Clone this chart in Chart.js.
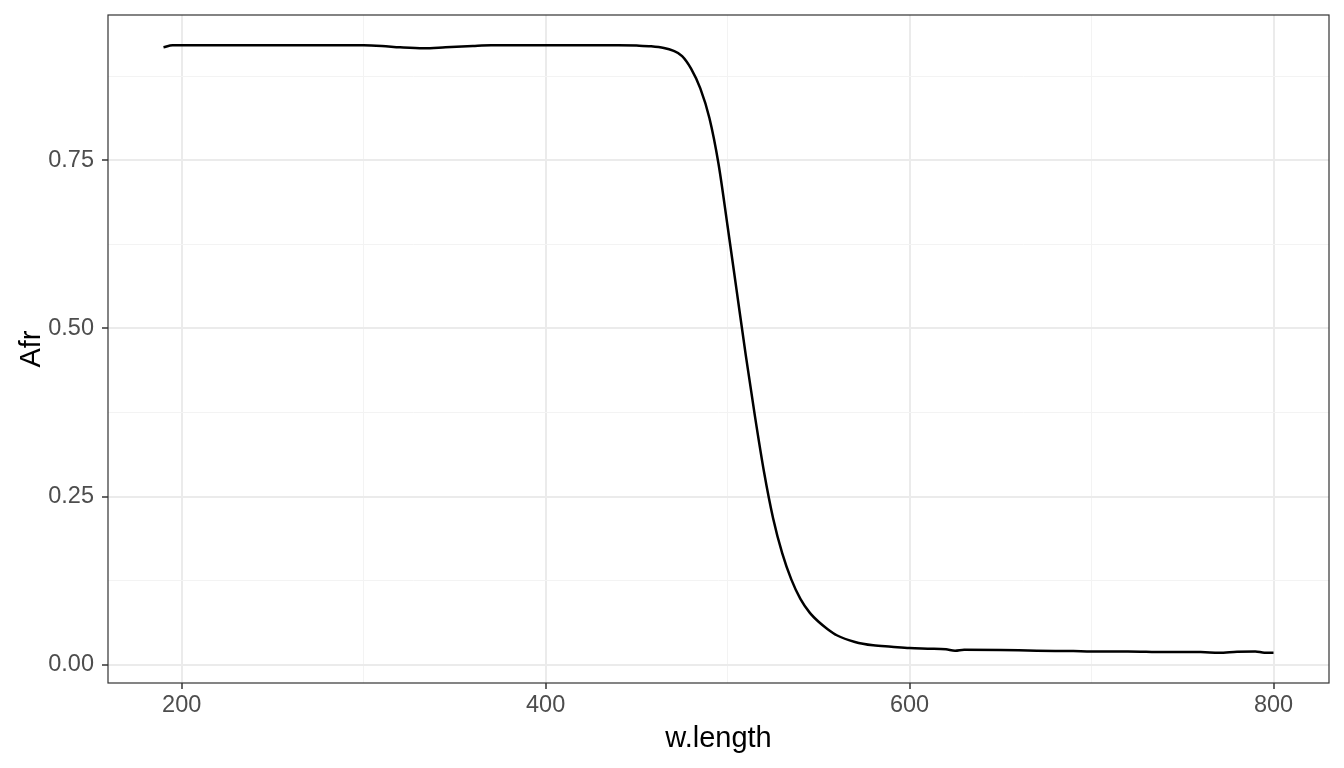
<!DOCTYPE html>
<html>
<head>
<meta charset="utf-8">
<script src="https://cdn.jsdelivr.net/npm/chart.js@4/dist/chart.umd.min.js"></script>
<style>
  body { margin: 0; background: #fff; }
  canvas { display: block; }
</style>
</head>
<body>
<canvas id="chart" width="1344" height="768"></canvas>
<script>
// spectrum
const wavelengths = [190, 195, 200, 220, 240, 260, 280, 300, 310, 320, 333, 345, 360, 370, 390, 410, 430, 440, 450, 458,
    465, 470, 475, 480, 485, 490, 495, 500, 505, 510, 515, 520, 525, 530, 535, 540, 545, 550, 555, 560,
    570, 580, 590, 600, 610, 620, 625, 630, 650, 670, 690, 700, 720, 740, 760, 770, 780, 790, 795, 800];
const afrValues = [0.918, 0.921, 0.921, 0.921, 0.921, 0.921, 0.921, 0.921, 0.920, 0.918, 0.9165, 0.918, 0.920, 0.921, 0.921, 0.921, 0.921, 0.921, 0.9205, 0.9195,
    0.917, 0.913, 0.905, 0.886, 0.857, 0.813, 0.745, 0.652, 0.556, 0.460, 0.370, 0.287, 0.218, 0.166, 0.127, 0.098, 0.078, 0.064, 0.053, 0.044,
    0.034, 0.029, 0.027, 0.025, 0.024, 0.023, 0.021, 0.0225, 0.022, 0.021, 0.0205, 0.020, 0.020, 0.019, 0.019, 0.018, 0.0195, 0.020, 0.018, 0.018];

const xMajorTicks = [200, 400, 600, 800];
const xMinorTicks = [300, 500, 700];
const yMajorTicks = [0, 0.25, 0.5, 0.75];
const yMinorTicks = [0.125, 0.375, 0.625, 0.875];
const yTickLabels = ['0.00', '0.25', '0.50', '0.75'];

const tickFont = { family: 'Liberation Sans, Arial, sans-serif', size: 23.5 };
const titleFont = { family: 'Liberation Sans, Arial, sans-serif', size: 29 };

function gridFor(majors) {
    return {
        color: ctx => majors.includes(ctx.tick.value) ? '#EBEBEB' : '#F3F3F3',
        lineWidth: ctx => majors.includes(ctx.tick.value) ? 2 : 1,
        tickColor: ctx => majors.includes(ctx.tick.value) ? '#333333' : 'rgba(0,0,0,0)',
        tickWidth: 1.5,
        tickLength: 6,
        drawTicks: true
    };
}

const panelBorder = {
    id: 'panelBorder',
    afterDraw(chart) {
        const a = chart.chartArea;
        const c = chart.ctx;
        c.save();
        c.strokeStyle = '#333333';
        c.lineWidth = 1.2;
        c.strokeRect(a.left, a.top, a.right - a.left, a.bottom - a.top);
        c.restore();
    }
};

new Chart(document.getElementById('chart').getContext('2d'), {
    type: 'line',
    data: {
        datasets: [{
            data: wavelengths.map((w, i) => ({ x: w, y: afrValues[i] })),
            borderColor: '#000000',
            borderWidth: 2.5,
            pointRadius: 0,
            cubicInterpolationMode: 'monotone',
            fill: false
        }]
    },
    options: {
        responsive: false,
        animation: false,
        devicePixelRatio: 1,
        layout: { padding: { top: 15, right: 15, left: 0, bottom: 0 } },
        plugins: { legend: { display: false }, tooltip: { enabled: false } },
        scales: {
            x: {
                type: 'linear',
                min: 159.5,
                max: 830.5,
                afterBuildTicks: s => { s.ticks = [...xMajorTicks, ...xMinorTicks].sort((a, b) => a - b).map(v => ({ value: v })); },
                afterFit: s => { s.height = 85; s.paddingLeft = 0; s.paddingRight = 0; },
                border: { display: false },
                grid: gridFor(xMajorTicks),
                ticks: {
                    font: tickFont,
                    color: '#4D4D4D',
                    padding: 2,
                    maxRotation: 0,
                    autoSkip: false,
                    callback: v => xMajorTicks.includes(v) ? String(v) : ''
                },
                title: { display: true, text: 'w.length', font: titleFont, color: '#000000', padding: { top: 0, bottom: 12 } }
            },
            y: {
                type: 'linear',
                min: -0.027,
                max: 0.966,
                afterBuildTicks: s => { s.ticks = [...yMajorTicks, ...yMinorTicks].sort((a, b) => a - b).map(v => ({ value: v })); },
                afterFit: s => { s.width = 108; s.paddingTop = 0; s.paddingBottom = 0; },
                border: { display: false },
                grid: gridFor(yMajorTicks),
                ticks: {
                    font: tickFont,
                    color: '#4D4D4D',
                    padding: 8,
                    autoSkip: false,
                    callback: v => {
                        const i = yMajorTicks.indexOf(v);
                        return i >= 0 ? yTickLabels[i] : '';
                    }
                },
                title: { display: true, text: 'Afr', font: titleFont, color: '#000000', padding: { top: 15, bottom: 0 } }
            }
        }
    },
    plugins: [panelBorder]
});
</script>
</body>
</html>
